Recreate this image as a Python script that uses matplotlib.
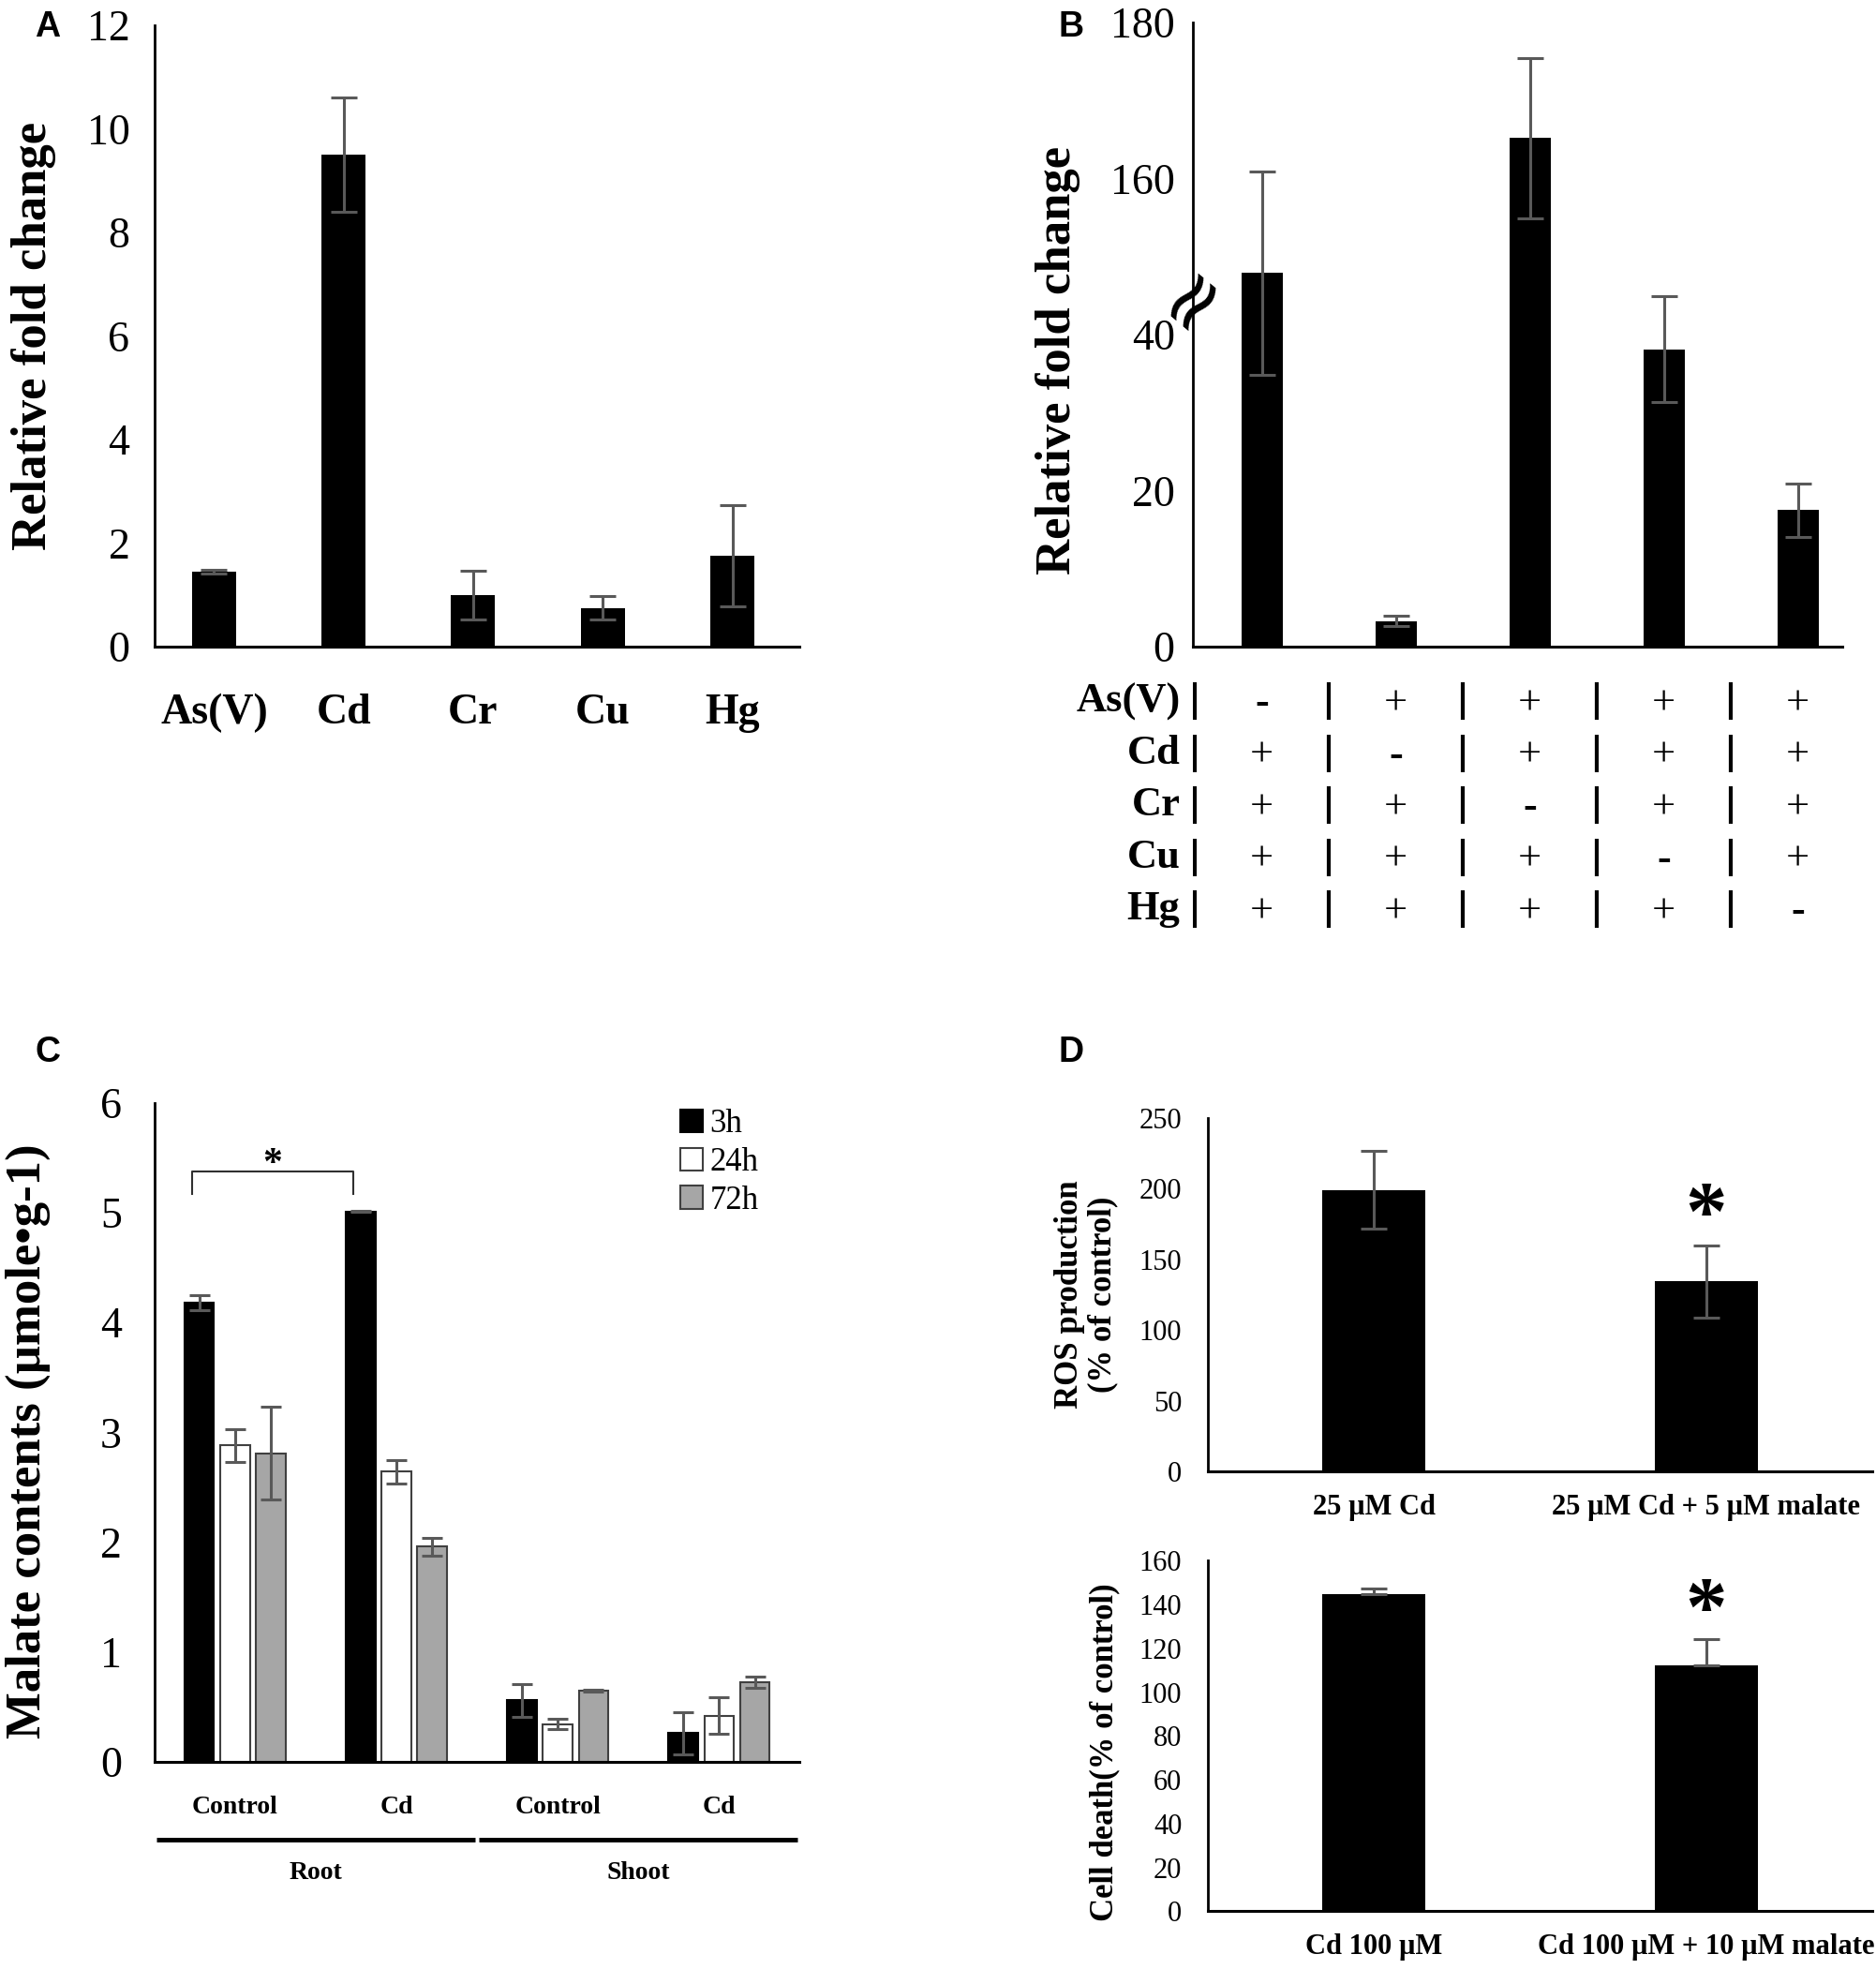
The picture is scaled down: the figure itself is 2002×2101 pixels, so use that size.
import numpy as np
import matplotlib
matplotlib.use('Agg')
import matplotlib.pyplot as plt
import matplotlib.transforms as mtransforms

plt.rcParams['font.family'] = ['Liberation Serif', 'DejaVu Serif']

# ---- panel A: single metals
a_metals = ["As(V)", "Cd", "Cr", "Cu", "Hg"]
a_values = [1.45, 9.5, 1.0, 0.75, 1.75]
a_err = [0.03, 1.1, 0.47, 0.23, 0.98]

# ---- panel B: metal mixtures (broken y axis)
b_values = [147.9, 3.3, 165.2, 38.1, 17.5]
b_err = [13.0, 0.7, 10.3, 6.8, 3.4]
b_ticks = [0, 20, 40, 160, 180]
b_rows = ["As(V)", "Cd", "Cr", "Cu", "Hg"]
b_signs = [["-", "+", "+", "+", "+"],
           ["+", "-", "+", "+", "+"],
           ["+", "+", "-", "+", "+"],
           ["+", "+", "+", "-", "+"],
           ["+", "+", "+", "+", "-"]]
BREAK_LO, BREAK_HI = 44, 144

# ---- panel C: malate contents
c_groups = ["Control", "Cd", "Control", "Cd"]
c_tissues = ["Root", "Shoot"]
c_times = ["3h", "24h", "72h"]
c_3h = [4.18, 5.01, 0.56, 0.26]
c_3h_err = [0.07, 0.005, 0.15, 0.19]
c_24h = [2.88, 2.64, 0.345, 0.42]
c_24h_err = [0.15, 0.11, 0.05, 0.165]
c_72h = [2.81, 1.96, 0.65, 0.725]
c_72h_err = [0.42, 0.08, 0.01, 0.055]

# ---- panel D: ROS and cell death
d_ros_labels = ["25 \u00b5M Cd", "25 \u00b5M Cd + 5 \u00b5M malate"]
d_ros = [198.9, 134.4]
d_ros_err = [27.5, 25.5]
d_death_labels = ["Cd 100 \u00b5M", "Cd 100 \u00b5M + 10 \u00b5M malate"]
d_death = [144.6, 112.2]
d_death_err = [2.9, 12.1]

ERR_COLOR = '#595959'


def to_axis(v):
    # squeeze the gap between 44 and 144 out of panel B's axis
    v = np.asarray(v, dtype=float)
    return np.where(v <= BREAK_LO, v, v - (BREAK_HI - BREAK_LO))


def style(ax, size, ypad, xpad):
    for s in ['top', 'right']:
        ax.spines[s].set_visible(False)
    ax.spines['left'].set_linewidth(2.0)
    ax.spines['bottom'].set_linewidth(2.2)
    ax.tick_params(axis='both', length=0, labelsize=size)
    ax.tick_params(axis='y', pad=ypad)
    ax.tick_params(axis='x', pad=xpad)


fig = plt.figure(figsize=(20.02, 21.01), dpi=100)

# ================= A
axA = fig.add_axes([0.0823, 0.6716, 0.344, 0.3156])
xa = np.arange(len(a_metals))
axA.bar(xa, a_values, width=0.34, color='black')
axA.errorbar(xa, a_values, yerr=a_err, fmt='none', ecolor=ERR_COLOR,
             elinewidth=2.2, capsize=10, capthick=2.2)
axA.set_xlim(-0.46, 4.52)
axA.set_ylim(0, 12)
axA.set_yticks(np.arange(0, 13, 2))
axA.set_xticks(xa)
axA.set_xticklabels(a_metals, fontweight='bold')
style(axA, 33, 19, 36)
axA.set_ylabel("Relative fold change", fontsize=38, fontweight='bold')
axA.yaxis.set_label_coords(-0.152, 0.5)

# ================= B
axB = fig.add_axes([0.6359, 0.6716, 0.3461, 0.3169])
xb = np.arange(len(b_values))
ub = to_axis(b_values)
axB.bar(xb, ub, width=0.31, color='black')
axB.errorbar(xb, ub, yerr=b_err, fmt='none', ecolor=ERR_COLOR,
             elinewidth=2.2, capsize=10, capthick=2.2)
axB.set_xlim(-0.515, 4.33)
axB.set_ylim(0, float(to_axis(180)))
axB.set_yticks(to_axis(b_ticks))
axB.set_yticklabels([str(t) for t in b_ticks])
axB.set_xticks([])
style(axB, 33, 14, 10)
axB.set_ylabel("Relative fold change", fontsize=38, fontweight='bold')
axB.yaxis.set_label_coords(-0.174, 0.459)
brk = mtransforms.blended_transform_factory(axB.transAxes, axB.transData)
axB.text(0.0, BREAK_LO + 0.8, "\u2248", transform=brk, fontsize=62,
         rotation=50, ha='center', va='center', family='DejaVu Sans')

# sign table under B
axT = fig.add_axes([0.6359, 0.5250, 0.3461, 0.132])
axT.set_xlim(axB.get_xlim())
axT.set_ylim(len(b_rows) - 0.5, -0.5)
axT.axis('off')
for r, name in enumerate(b_rows):
    axT.text(-0.61, r, name, ha='right', va='center', fontsize=32,
             fontweight='bold')
    axT.vlines(np.arange(len(b_values)) - 0.5, r - 0.36, r + 0.36,
               color='black', lw=3)
    for c, s in enumerate(b_signs[r]):
        axT.text(c, r + 0.05, s, ha='center', va='center', fontsize=32,
                 fontweight='bold' if s == '-' else 'normal')

# ================= C
axC = fig.add_axes([0.0823, 0.1052, 0.344, 0.3348])
xc = np.arange(len(c_groups))
off = 0.222
series = [(c_3h, c_3h_err, 'black', 'black'),
          (c_24h, c_24h_err, 'white', '#404040'),
          (c_72h, c_72h_err, '#a6a6a6', '#404040')]
for k, (vals, errs, fc, ec) in enumerate(series):
    pos = xc + (k - 1) * off
    axC.bar(pos, vals, width=0.183, color=fc, edgecolor=ec, linewidth=1.5,
            label=c_times[k])
    axC.errorbar(pos, vals, yerr=errs, fmt='none', ecolor=ERR_COLOR,
                 elinewidth=2.2, capsize=8, capthick=2.2)
axC.set_xlim(-0.5, 3.5)
axC.set_ylim(0, 6)
axC.set_yticks(np.arange(0, 7, 1))
axC.set_xticks(xc)
axC.set_xticklabels(c_groups, fontweight='bold')
style(axC, 33, 25, 26)
axC.tick_params(axis='x', labelsize=20)
axC.set_ylabel("Malate contents (\u00b5mole\u2022g-1)", fontsize=38,
               fontweight='bold')
axC.yaxis.set_label_coords(-0.161, 0.486)
axC.legend(loc='upper left', bbox_to_anchor=(0.795, 1.01), frameon=False,
           fontsize=25, handlelength=0.7, handleheight=0.7,
           handletextpad=0.2, labelspacing=0.22, borderaxespad=0)

# significance bracket between root control and root Cd at 3h
bx0, bx1 = xc[0] - off - 0.045, xc[1] - off - 0.045
axC.plot([bx0, bx0, bx1, bx1], [5.17, 5.37, 5.37, 5.17], color='#303030',
         lw=1.5, clip_on=False)
axC.text((bx0 + bx1) / 2, 5.27, "*", ha='center', va='bottom', fontsize=30,
         fontweight='bold')

# tissue lines under the group labels
tis = mtransforms.blended_transform_factory(axC.transData, axC.transAxes)
for t, name in enumerate(c_tissues):
    g0, g1 = 2 * t - 0.5, 2 * t + 1.5
    axC.plot([g0 + 0.012, g1 - 0.012], [-0.118, -0.118], color='black',
             lw=3.5, transform=tis, clip_on=False, solid_capstyle='butt')
    axC.text((g0 + g1) / 2, -0.168, name, transform=tis, ha='center',
             va='center', fontsize=20, fontweight='bold')

# ================= D top
axD1 = fig.add_axes([0.6439, 0.2526, 0.354, 0.1798])
xd = np.arange(2)
axD1.bar(xd, d_ros, width=0.31, color='black')
axD1.errorbar(xd, d_ros, yerr=d_ros_err, fmt='none', ecolor=ERR_COLOR,
              elinewidth=2.2, capsize=10, capthick=2.2)
axD1.set_xlim(-0.5, 1.5)
axD1.set_ylim(0, 250)
axD1.set_yticks(np.arange(0, 251, 50))
axD1.set_xticks(xd)
axD1.set_xticklabels(d_ros_labels, fontweight='bold')
style(axD1, 22, 20, 17)
axD1.set_ylabel("ROS production\n(% of control)", fontsize=25,
                fontweight='bold', linespacing=1.1)
axD1.yaxis.set_label_coords(-0.135, 0.5)
axD1.text(xd[1], 179, "*", ha='center', va='center', fontsize=64,
          fontweight='bold')

# ================= D bottom
axD2 = fig.add_axes([0.6439, 0.0293, 0.354, 0.178])
axD2.bar(xd, d_death, width=0.31, color='black')
axD2.errorbar(xd, d_death, yerr=[[0, 0], d_death_err], fmt='none',
              ecolor=ERR_COLOR, elinewidth=2.2, capsize=10, capthick=2.2)
axD2.set_xlim(-0.5, 1.5)
axD2.set_ylim(0, 160)
axD2.set_yticks(np.arange(0, 161, 20))
axD2.set_xticks(xd)
axD2.set_xticklabels(d_death_labels, fontweight='bold')
style(axD2, 22, 20, 17)
axD2.set_ylabel("Cell death(% of control)", fontsize=25, fontweight='bold')
axD2.yaxis.set_label_coords(-0.132, 0.455)
axD2.text(xd[1], 136, "*", ha='center', va='center', fontsize=64,
          fontweight='bold')

# panel letters
for letter, (lx, ly) in zip("ABCD", [(0.0254, 0.986), (0.571, 0.986),
                                     (0.0254, 0.4656), (0.571, 0.4656)]):
    fig.text(lx, ly, letter, ha='center', va='center', fontsize=27,
             fontweight='bold', family='Liberation Sans')

fig.savefig("out.png", dpi=100)
